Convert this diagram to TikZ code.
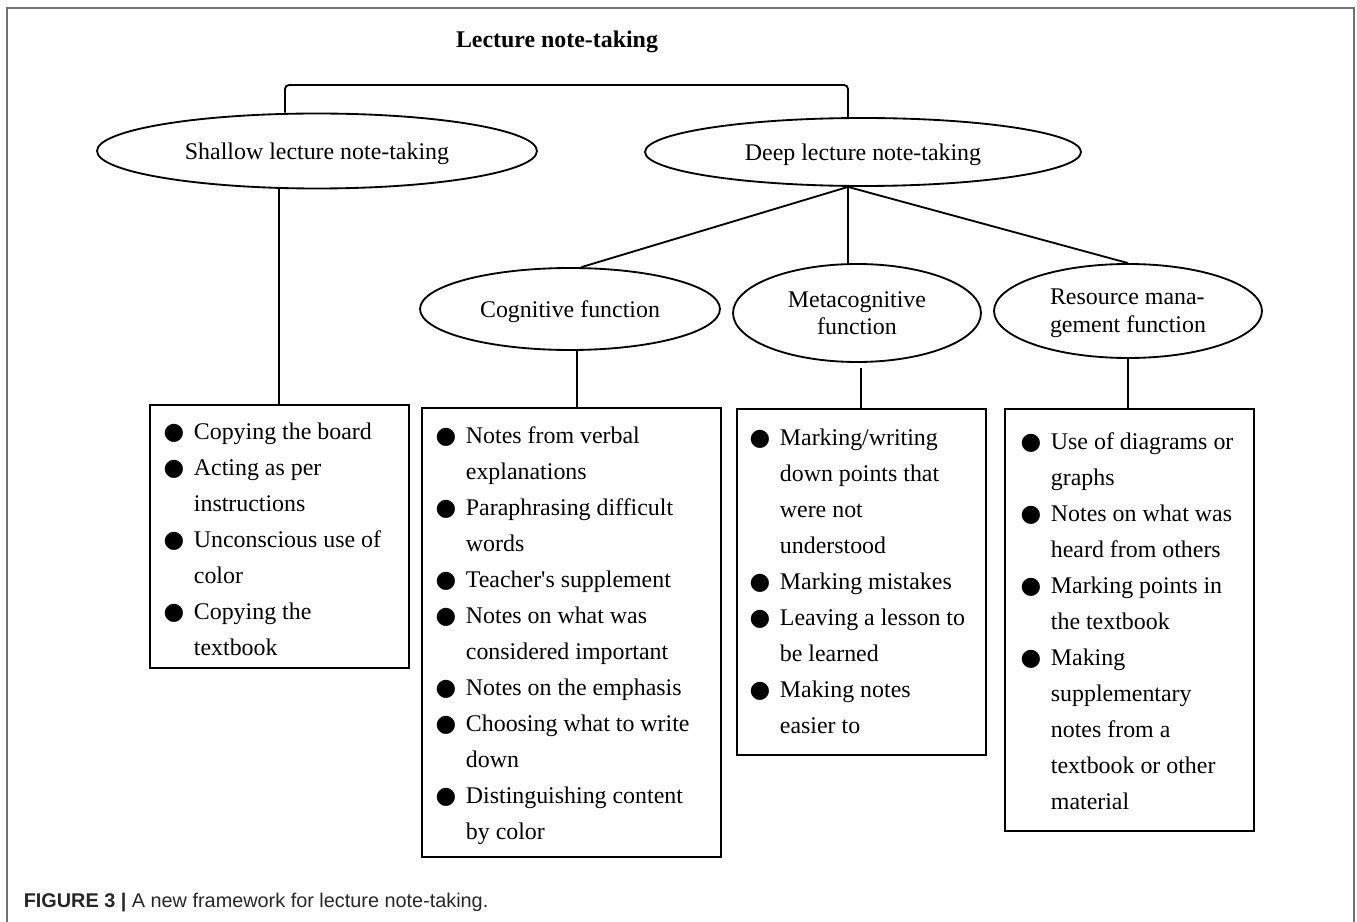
\documentclass[tikz,border=0pt]{standalone}
\usepackage{fontspec}
\setmainfont{Liberation Serif}
\newfontfamily\capfont{Liberation Sans}
\newfontfamily\dotfont{DejaVu Sans}
\usetikzlibrary{shapes.geometric}

\newcommand{\mainsize}{\fontsize{13.6}{20.5}\selectfont}
\newcommand{\bl}{\makebox[0.24cm]{\dotfont\fontsize{13.5}{13.5}\selectfont ●}}

\begin{document}
\begin{tikzpicture}[x=0.02cm, y=-0.02cm, line width=1.05pt,
    every node/.style={font=\mainsize},
    oval/.style={draw, ellipse, inner sep=0pt, align=center, text depth=0pt, font=\fontsize{13.6}{15.8}\selectfont},
    listbox/.style={draw, rectangle, anchor=north west, inner sep=0pt},
    listtext/.style={anchor=north west, inner sep=0pt}]
    \useasboundingbox (0,0) rectangle (1357,922);
    \draw[black!55, line width=1.2pt] (7,922) -- (7,8) -- (1354,8) -- (1354,922);

    \node[font=\mainsize\bfseries] (title) at (557,42) {Lecture note-taking};

    \coordinate (brkL) at (285,85);
    \coordinate (brkR) at (848,85);

    \node[oval, minimum width=8.8cm, minimum height=1.5cm] (shallow) at (317,151) {Shallow lecture note-taking};
    \node[oval, minimum width=8.72cm, minimum height=1.36cm] (deep) at (863,152) {Deep lecture note-taking};
    \node[oval, minimum width=6cm, minimum height=1.64cm] (cog) at (570,309) {Cognitive function};
    \node[oval, minimum width=4.96cm, minimum height=1.96cm] (meta) at (857,313) {Metacognitive\\function};
    \node[oval, minimum width=5.36cm, minimum height=1.88cm, align=left] (res) at (1128,311) {Resource mana-\\gement function};

    \node[listbox, minimum width=5.18cm, minimum height=5.26cm] (shallowbox) at (149,404) {};
    \node[listbox, minimum width=5.98cm, minimum height=8.98cm] (cogbox) at (421,407) {};
    \node[listbox, minimum width=4.98cm, minimum height=6.92cm] (metabox) at (736,408) {};
    \node[listbox, minimum width=4.98cm, minimum height=8.44cm] (resbox) at (1004,408) {};

    \node[listtext] (shallowlist) at (167,413) {\begin{tabular}{@{}l@{\hspace{0.28cm}}l@{}}
        \bl & Copying the board\\
        \bl & Acting as per\\
            & instructions\\
        \bl & Unconscious use of\\
            & color\\
        \bl & Copying the\\
            & textbook
    \end{tabular}};
    \node[listtext] (coglist) at (439,417) {\begin{tabular}{@{}l@{\hspace{0.28cm}}l@{}}
        \bl & Notes from verbal\\
            & explanations\\
        \bl & Paraphrasing difficult\\
            & words\\
        \bl & Teacher\textquotesingle s supplement\\
        \bl & Notes on what was\\
            & considered important\\
        \bl & Notes on the emphasis\\
        \bl & Choosing what to write\\
            & down\\
        \bl & Distinguishing content\\
            & by color
    \end{tabular}};
    \node[listtext] (metalist) at (753,419) {\begin{tabular}{@{}l@{\hspace{0.28cm}}l@{}}
        \bl & Marking/writing\\
            & down points that\\
            & were not\\
            & understood\\
        \bl & Marking mistakes\\
        \bl & Leaving a lesson to\\
            & be learned\\
        \bl & Making notes\\
            & easier to
    \end{tabular}};
    \node[listtext] (reslist) at (1024,423) {\begin{tabular}{@{}l@{\hspace{0.28cm}}l@{}}
        \bl & Use of diagrams or\\
            & graphs\\
        \bl & Notes on what was\\
            & heard from others\\
        \bl & Marking points in\\
            & the textbook\\
        \bl & Making\\
            & supplementary\\
            & notes from a\\
            & textbook or other\\
            & material
    \end{tabular}};

    \draw[rounded corners=0.08cm] (shallow.north -| brkL) -- (brkL) -- (brkR) -- (deep.north -| brkR);
    \coordinate (fork) at (deep.south -| brkR);
    \draw (cog.75) -- (fork) -- (res.north);
    \draw (fork) -- (meta.north -| fork);
    \coordinate (cogdrop) at ([xshift=0.14cm]cog.south);
    \coordinate (metagap) at ([yshift=-0.1cm]meta.south);
    \draw (shallowbox.north) -- (shallowbox.north |- shallow.south);
    \draw (cogdrop) -- (cogdrop |- cogbox.north);
    \draw (metagap -| metabox.north) -- (metabox.north);
    \draw (res.south) -- (res.south |- resbox.north);

    \node[anchor=base west, text=black!85, font=\capfont\fontsize{11.3}{13}\selectfont] (caption) at (17,907)
        {\textbf{FIGURE 3 |} A new framework for lecture note-taking.};
\end{tikzpicture}
\end{document}
